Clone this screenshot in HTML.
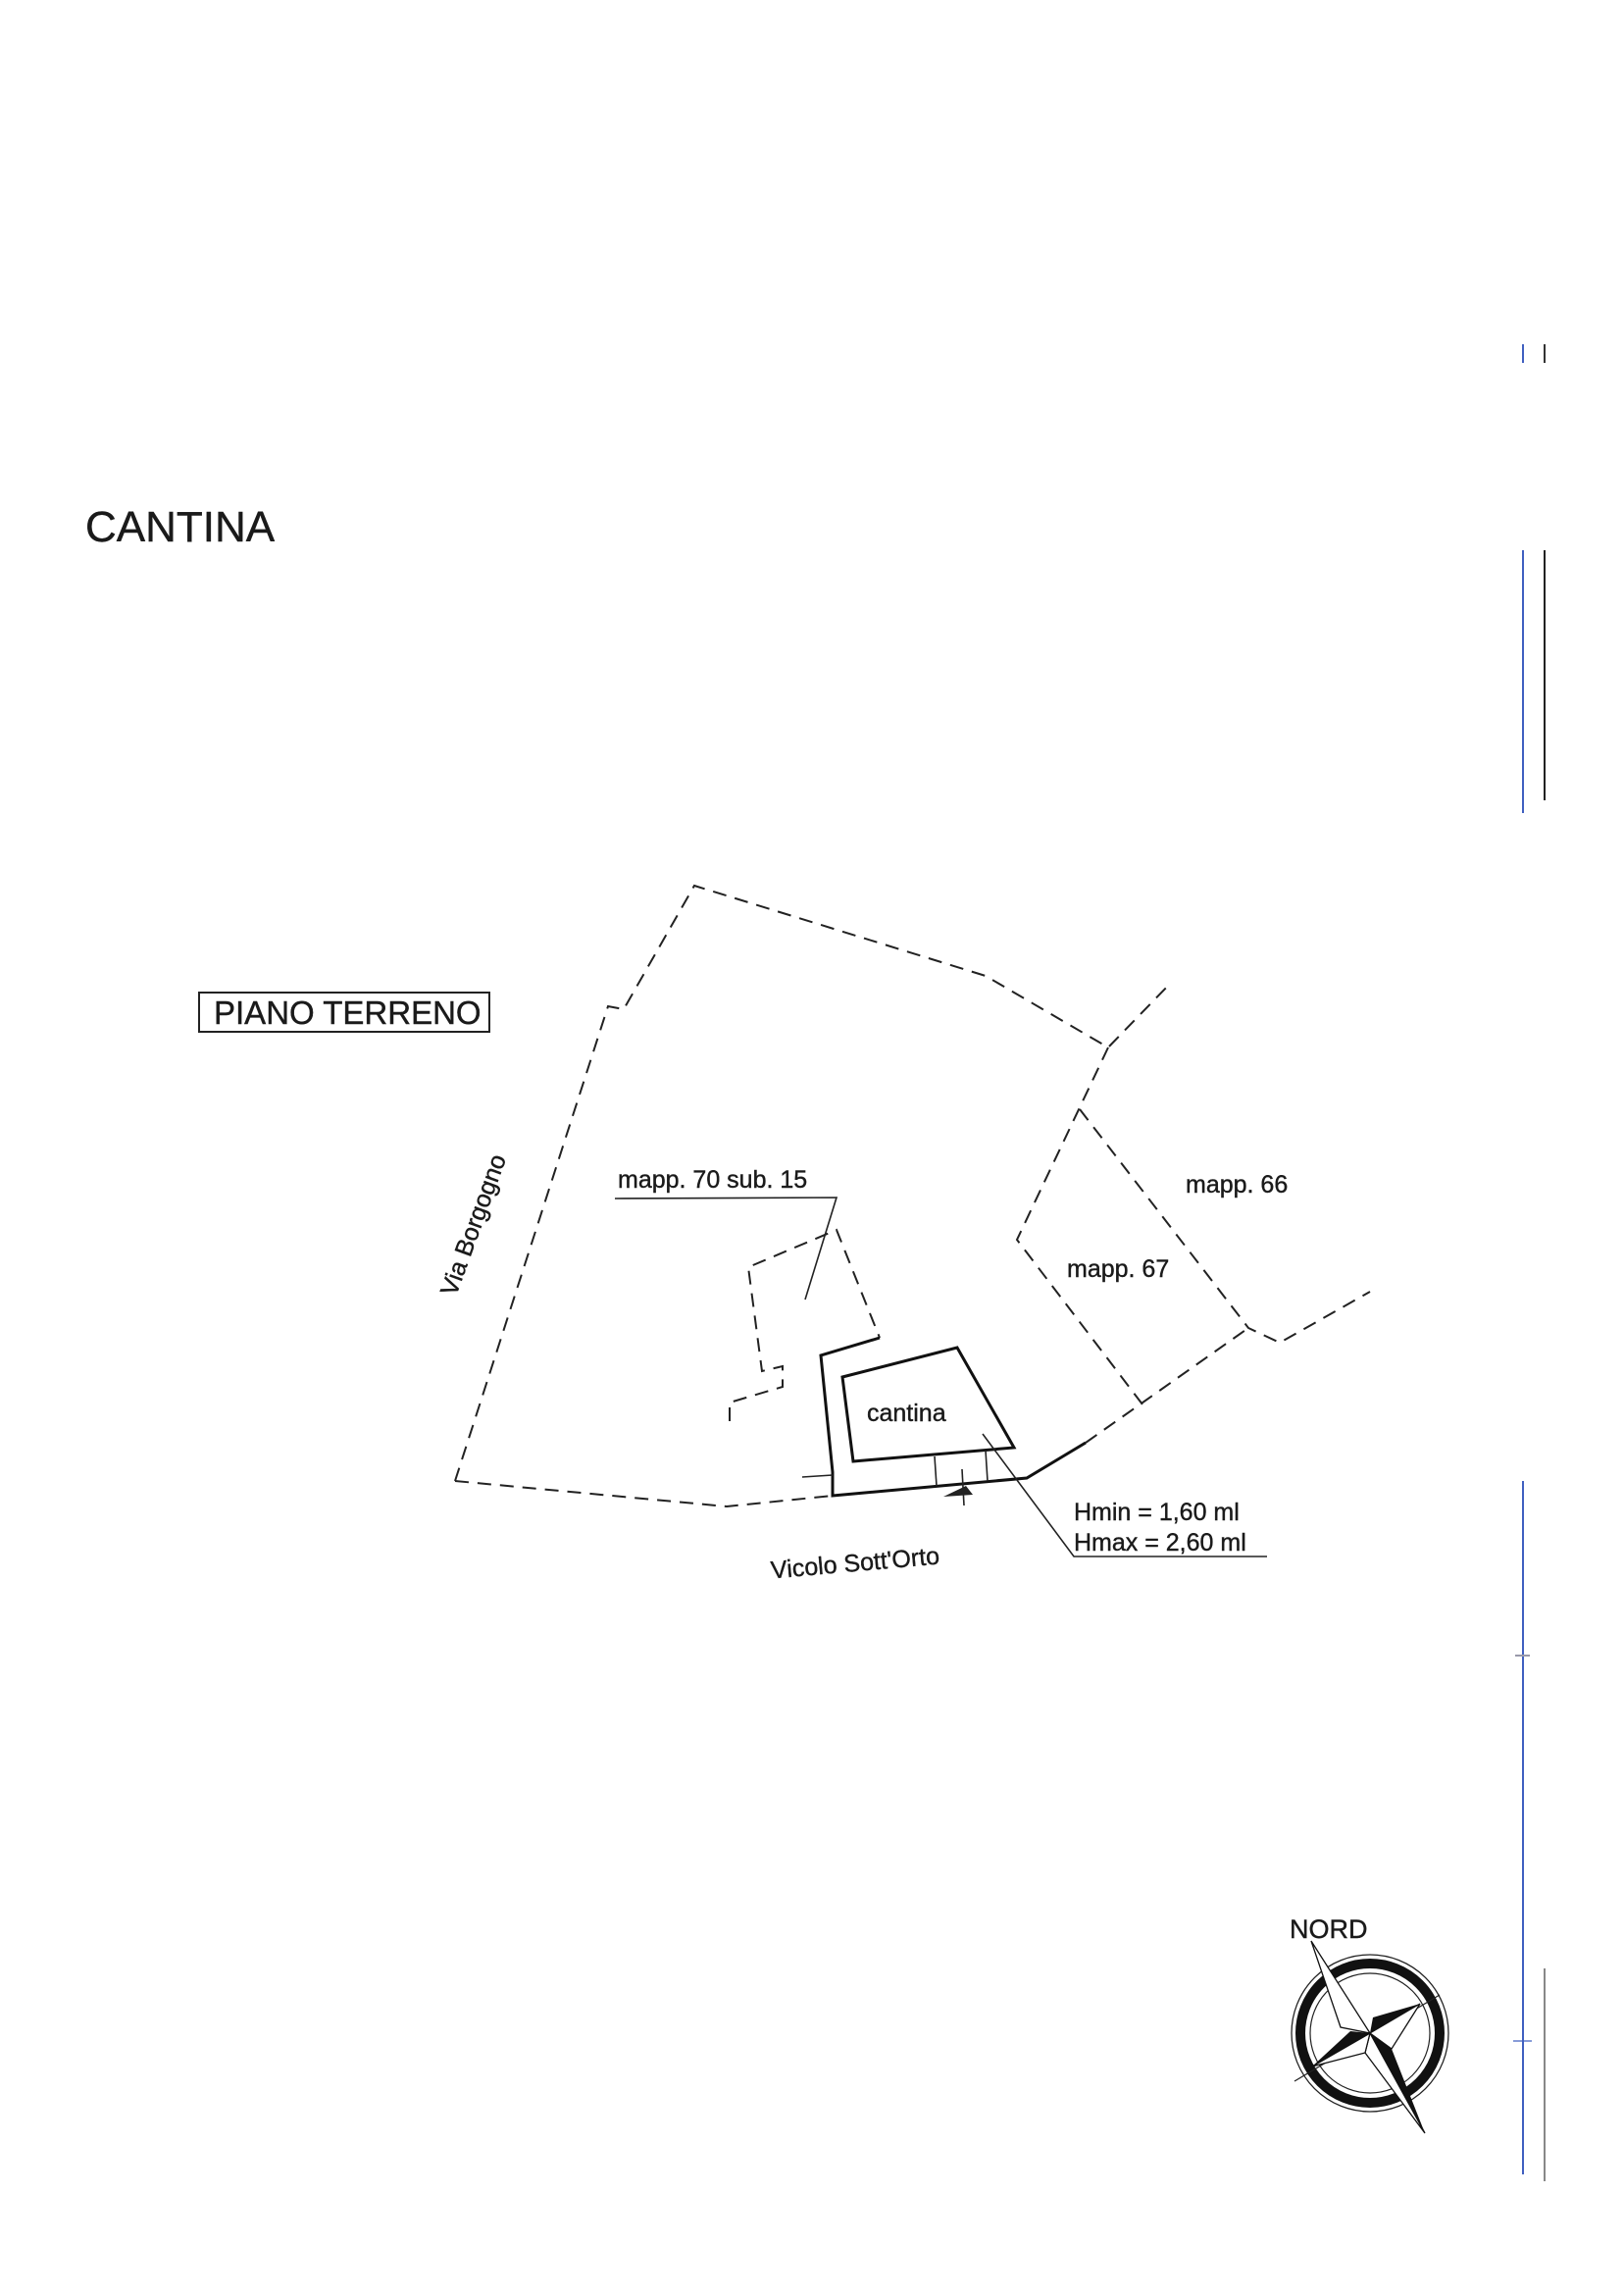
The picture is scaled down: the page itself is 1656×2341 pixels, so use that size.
<!DOCTYPE html>
<html><head><meta charset="utf-8"><style>
html,body{margin:0;padding:0;background:#fff;}
svg{display:block;}
text{font-family:"Liberation Sans",Arial,sans-serif;fill:#1a1a1a;stroke:#1a1a1a;stroke-width:0.4;}
</style></head><body>
<svg width="1656" height="2341" viewBox="0 0 1656 2341" xmlns="http://www.w3.org/2000/svg">
<rect width="1656" height="2341" fill="#fff"/>
<text x="87" y="552" font-size="44">CANTINA</text>
<rect x="203" y="1012" width="296" height="40" fill="none" stroke="#222" stroke-width="2"/>
<text x="218" y="1044" font-size="33">PIANO TERRENO</text>

<g fill="none" stroke="#222" stroke-width="2" stroke-dasharray="14,9">
<polyline points="464,1510 620,1026 636,1029 708,903 1005,995 1130,1068 1193,1003"/>
<polyline points="1130,1068 1037,1264 1165,1432"/>
<polyline points="1101,1131 1273,1354 1305,1369 1397,1317"/>
<polyline points="1107,1471 1273,1354"/>
<polyline points="464,1510 741,1536 849,1525"/>
<polyline points="744,1449 744,1430 798,1414 798,1393 777,1398 763,1292 853,1254 897,1364"/>
</g>
<g fill="none" stroke="#111" stroke-width="3">
<polyline points="897,1364 837,1382 849,1501 849,1525 1047,1507 1107,1471"/>
<polygon points="859,1404 976,1374 1034,1476 870,1490"/>
</g>
<g fill="none" stroke="#222" stroke-width="1.6">
<line x1="818" y1="1506" x2="849" y2="1504"/>
<line x1="953" y1="1485" x2="955" y2="1515"/>
<line x1="1005" y1="1479" x2="1007" y2="1510"/>
<line x1="981" y1="1498" x2="983" y2="1535"/>
<polyline points="627,1222 853,1221 821,1325"/>
<polyline points="1002,1462 1095,1587 1292,1587"/>
</g>
<path d="M962,1526 L985,1515 L992,1524 Z" fill="#222"/>

<text x="630" y="1211" font-size="25">mapp. 70 sub. 15</text>
<text x="1209" y="1216" font-size="25">mapp. 66</text>
<text x="1088" y="1302" font-size="25">mapp. 67</text>
<text x="884" y="1449" font-size="25">cantina</text>
<text x="1095" y="1550" font-size="25">Hmin = 1,60 ml</text>
<text x="1095" y="1581" font-size="25">Hmax = 2,60 ml</text>
<text x="483" y="1257" font-size="25" text-anchor="middle" transform="rotate(-70 483 1249)">Via Borgogno</text>
<text x="872" y="1602" font-size="25" text-anchor="middle" transform="rotate(-5 872 1594)">Vicolo Sott'Orto</text>

<!-- compass -->
<text x="1315" y="1976" font-size="27">NORD</text>
<g transform="translate(1397,2073)">
<circle r="80" fill="none" stroke="#222" stroke-width="1.3"/>
<circle r="71" fill="none" stroke="#111" stroke-width="10"/>
<circle r="61" fill="none" stroke="#222" stroke-width="1.2"/>
<line x1="-77" y1="49" x2="71" y2="-39" stroke="#222" stroke-width="1.3"/>
<polygon points="-60,-94 -22,-16 0,0" fill="#111"/>
<polygon points="-60,-94 -30,-6 0,0" fill="#fff" stroke="#111" stroke-width="1.3"/>
<polygon points="56,102 22,16 0,0" fill="#111"/>
<polygon points="56,102 -5,20 0,0" fill="#fff" stroke="#111" stroke-width="1.3"/>
<polygon points="-59,34 -20,-2 0,0" fill="#111"/>
<polygon points="-59,34 -5,20 0,0" fill="#fff" stroke="#111" stroke-width="1.3"/>
<polygon points="51,-30 3,-16 0,0" fill="#111"/>
<polygon points="51,-30 22,16 0,0" fill="#fff" stroke="#111" stroke-width="1.3"/>
</g>

<!-- margin lines -->
<g stroke-width="2">
<line x1="1553" y1="351" x2="1553" y2="370" stroke="#4060c0"/>
<line x1="1575" y1="351" x2="1575" y2="370" stroke="#333"/>
<line x1="1553" y1="561" x2="1553" y2="829" stroke="#4060c0"/>
<line x1="1575" y1="561" x2="1575" y2="816" stroke="#222"/>
<line x1="1553" y1="1510" x2="1553" y2="2217" stroke="#4060c0"/>
<line x1="1575" y1="2007" x2="1575" y2="2224" stroke="#888"/>
<line x1="1545" y1="1688" x2="1560" y2="1688" stroke="#99a"/>
<line x1="1543" y1="2081" x2="1562" y2="2081" stroke="#4060c0" stroke-width="1.2"/>
</g>
</svg>
</body></html>
